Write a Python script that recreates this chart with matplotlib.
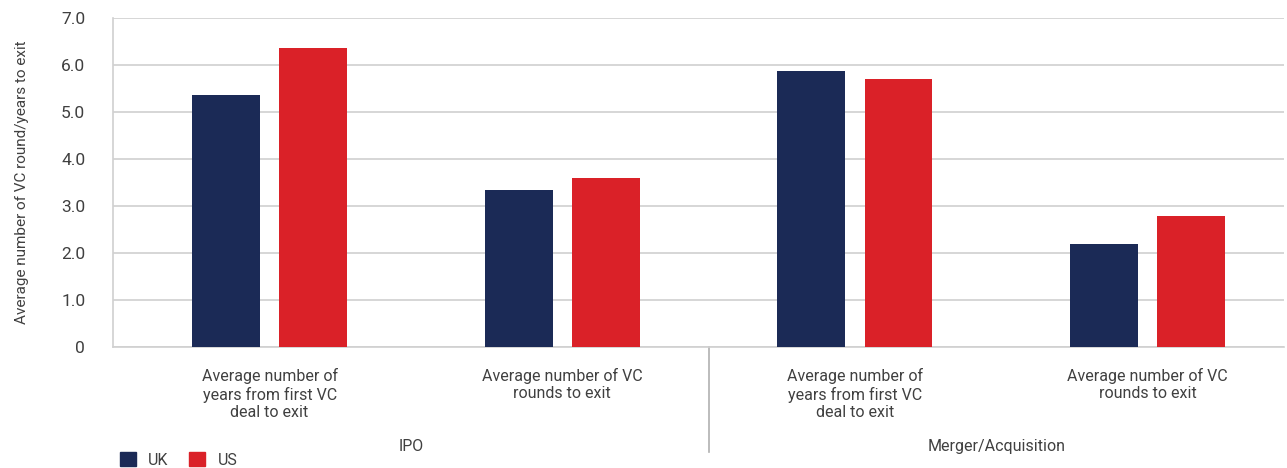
import numpy as np
import matplotlib.pyplot as plt
from matplotlib.patches import Patch

categories = ["Average number of\nyears from first VC\ndeal to exit",
              "Average number of VC\nrounds to exit",
              "Average number of\nyears from first VC\ndeal to exit",
              "Average number of VC\nrounds to exit"]
groups = ["IPO", "Merger/Acquisition"]
uk = [5.36, 3.34, 5.87, 2.19]
us = [6.36, 3.60, 5.70, 2.79]
yticks = [0, 1, 2, 3, 4, 5, 6, 7]
ytick_labels = ["0", "1.0", "2.0", "3.0", "4.0", "5.0", "6.0", "7.0"]

navy = "#1b2a56"
red = "#da2128"
grey_txt = "#404040"
grid_c = "#d0d0d0"

plt.rcParams['font.family'] = ['Roboto', 'DejaVu Sans']

fig = plt.figure(figsize=(12.87, 4.68), dpi=100)
ax = fig.add_axes([113/1287, 1 - 347/468, (1284 - 113)/1287, (347 - 18)/468])

x = np.arange(len(categories))
w = 0.232
off = 0.149
ax.bar(x - off, uk, w, color=navy, zorder=3)
ax.bar(x + off, us, w, color=red, zorder=3)

ax.set_xlim(-0.535, 3.466)
ax.set_ylim(0, 7)
ax.set_yticks(yticks)
ax.set_yticklabels(ytick_labels, fontsize=12.5, color=grey_txt)
ax.tick_params(axis='y', length=0, pad=20)
ax.set_xticks([])
ax.yaxis.grid(True, color=grid_c, linewidth=1.2, zorder=0)
for s in ["top", "right"]:
    ax.spines[s].set_visible(False)
for s in ["left", "bottom"]:
    ax.spines[s].set_color(grid_c)
    ax.spines[s].set_linewidth(1.2)

ax.set_ylabel("Average number of VC round/years to exit", fontsize=11, color=grey_txt, labelpad=23)

# category labels
for xi, lab in zip(x, categories):
    ax.text(xi, -0.44, lab, ha='center', va='top', fontsize=11.5, color=grey_txt,
            linespacing=1.22)

# group separator and group labels
ax.plot([1.5, 1.5], [0, -2.23], color="#b0b0b0", linewidth=1.2, clip_on=False)
ax.text((-0.535 + 1.5) / 2, -2.12, groups[0], ha='center', va='center', fontsize=11.5, color=grey_txt)
ax.text((1.5 + 3.466) / 2, -2.12, groups[1], ha='center', va='center', fontsize=11.5, color=grey_txt)

handles = [Patch(color=navy, label="UK"), Patch(color=red, label="US")]
fig.legend(handles=handles, loc='lower left', bbox_to_anchor=(106/1287, -0.03), ncol=2,
           frameon=False, fontsize=11.5, handlelength=0.95, handleheight=1.0,
           handletextpad=0.8, columnspacing=1.3, labelcolor=grey_txt)

fig.savefig("out.png", dpi=100)
